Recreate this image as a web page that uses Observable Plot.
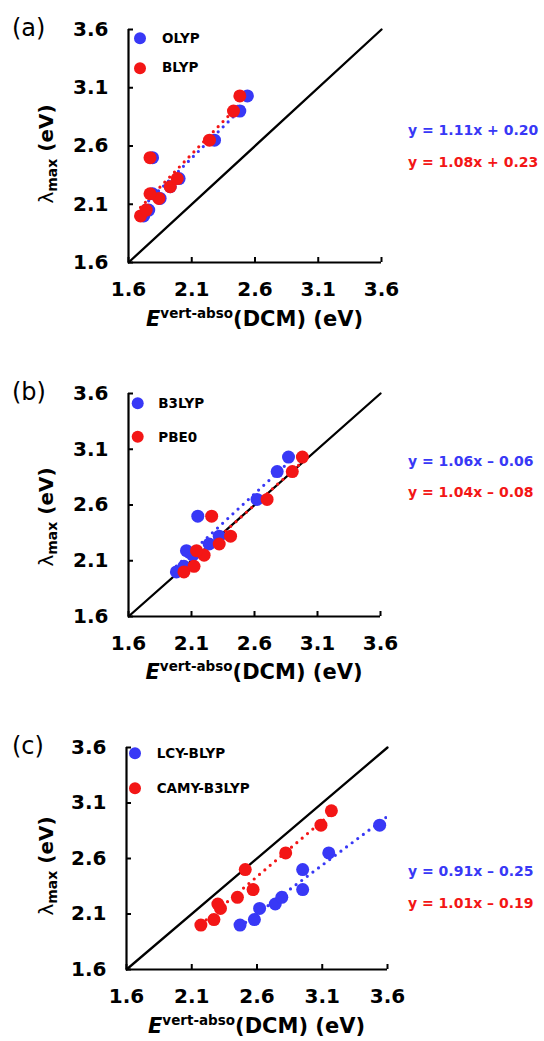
<!DOCTYPE html>
<html><head><meta charset="utf-8">
<script src="https://cdn.jsdelivr.net/npm/d3@7"></script>
<script src="https://cdn.jsdelivr.net/npm/@observablehq/plot@0.6"></script>
<style>
html,body{margin:0;padding:0;background:#fff;}
#chart{position:relative;width:544px;height:1041px;overflow:hidden;background:#fff;}
#chart > svg{position:absolute;left:0;}
</style></head><body><div id="chart"></div>
<script>
// experimental absorption maxima (eV), shared by all panels
const lambdaMax = [2.00, 2.05, 2.15, 2.19, 2.25, 2.32, 2.50, 2.65, 2.90, 3.03];
// computed vertical absorption energies (eV)
const olyp      = [1.72, 1.76, 1.85, 1.79, 1.93, 2.00, 1.79, 2.28, 2.48, 2.54];
const blyp      = [1.695, 1.74, 1.84, 1.77, 1.93, 1.985, 1.77, 2.24, 2.43, 2.48];
const b3lyp     = [1.98, 2.04, 2.11, 2.06, 2.24, 2.32, 2.15, 2.62, 2.78, 2.87];
const pbe0      = [2.04, 2.12, 2.20, 2.14, 2.32, 2.41, 2.26, 2.70, 2.90, 2.98];
const lcyBlyp   = [2.47, 2.58, 2.62, 2.74, 2.79, 2.95, 2.95, 3.15, 3.54, 3.66];
const camyB3lyp = [2.17, 2.27, 2.32, 2.30, 2.45, 2.57, 2.51, 2.82, 3.09, 3.17];

const axisTicks = [1.6, 2.1, 2.6, 3.1, 3.6];
const diagonal = [1.6, 3.6];
const panelLabels = ["(a)", "(b)", "(c)"];
const seriesNames = [["OLYP", "BLYP"], ["B3LYP", "PBE0"], ["LCY-BLYP", "CAMY-B3LYP"]];
const equations = [
  ["y = 1.11x + 0.20", "y = 1.08x + 0.23"],
  ["y = 1.06x \u2013 0.06", "y = 1.04x \u2013 0.08"],
  ["y = 0.91x \u2013 0.25", "y = 1.01x \u2013 0.19"]
];
const seriesX = [[olyp, blyp], [b3lyp, pbe0], [lcyBlyp, camyB3lyp]];

const BLUE = "#3838f6", RED = "#f31616";
const FONT = "DejaVu Sans";

// layout (pixels)
const layouts = [
  {top: 0,   h: 300, mt: 29, mb: 38, ml: 128, mr: 163, lab: 36,  legY: [38.3, 68.3], legX: 140, legTX: 162, legTY: [43, 72], eqY: [135, 167], yLabC: 154, xLabY: 326},
  {top: 360, h: 300, mt: 33, mb: 44, ml: 128, mr: 164, lab: 400, legY: [403.3, 436.7], legX: 137.7, legTX: 158.3, legTY: [408.3, 441.7], eqY: [466, 497], yLabC: 517, xLabY: 679},
  {top: 720, h: 300, mt: 27, mb: 51, ml: 126, mr: 157, lab: 754, legY: [753.3, 788.3], legX: 135, legTX: 156.7, legTY: [758, 793], eqY: [876, 908], yLabC: 866, xLabY: 1033}
];

const chart = document.getElementById("chart");
const colors = [BLUE, RED];

layouts.forEach((L, p) => {
  const fw = 544 - L.ml - L.mr, fh = L.h - L.mt - L.mb;
  const rows = seriesX[p].map(xs => lambdaMax.map((y, i) => ({x: xs[i], y})));
  const svg = Plot.plot({
    width: 544, height: L.h,
    marginTop: L.mt, marginBottom: L.mb, marginLeft: L.ml, marginRight: L.mr,
    style: {fontFamily: FONT, fontWeight: "bold", fontSize: "20px", color: "#000", background: "transparent", overflow: "visible"},
    x: {domain: [axisTicks[0], axisTicks[axisTicks.length - 1]]},
    y: {domain: [axisTicks[0], axisTicks[axisTicks.length - 1]]},
    marks: [
      Plot.line(diagonal, {x: d => d, y: d => d, stroke: "#000", strokeWidth: 2.3}),
      ...rows.map((r, k) => Plot.linearRegressionY(r, {x: "x", y: "y", stroke: colors[k], ci: 0, strokeWidth: 3.2, strokeDasharray: "0,7", strokeLinecap: "round", clip: true})),
      ...rows.map((r, k) => Plot.dot(r, {x: "x", y: "y", r: 6.5, fill: colors[k], clip: true})),
      Plot.tickX(axisTicks, {x: d => d, insetTop: fh - 5, stroke: "#000", strokeWidth: 2}),
      Plot.tickY(axisTicks, {y: d => d, insetRight: fw - 5, stroke: "#000", strokeWidth: 2}),
      Plot.ruleX([axisTicks[0]], {stroke: "#000", strokeWidth: 2.2}),
      Plot.ruleY([axisTicks[0]], {stroke: "#000", strokeWidth: 2.2}),
      Plot.axisX(axisTicks, {tickSize: 0, tickPadding: 19, tickFormat: d => d.toFixed(1), label: null, fontSize: 20, fontWeight: "bold", fill: "#000"}),
      Plot.axisY(axisTicks, {tickSize: 0, tickPadding: 20, tickFormat: d => d.toFixed(1), label: null, fontSize: 20, fontWeight: "bold", fill: "#000"})
    ]
  });
  svg.style.top = L.top + "px";
  chart.appendChild(svg);
});

// overlay with text annotations
const ov = d3.select(chart).append("svg")
  .attr("width", 544).attr("height", 1041)
  .style("position", "absolute").style("top", "0px").style("left", "0px")
  .attr("font-family", FONT);

layouts.forEach((L, p) => {
  const cx = L.ml + (544 - L.ml - L.mr) / 2;
  // panel label
  ov.append("text").attr("x", 12).attr("y", L.lab).attr("font-size", 24).attr("font-weight", "normal").text(panelLabels[p]);
  // legend
  seriesNames[p].forEach((name, k) => {
    ov.append("circle").attr("cx", L.legX).attr("cy", L.legY[k]).attr("r", 6).attr("fill", colors[k]);
    ov.append("text").attr("x", L.legTX).attr("y", L.legTY[k]).attr("font-size", 13.5).attr("font-weight", "bold").text(name);
  });
  // equations
  equations[p].forEach((eq, k) => {
    ov.append("text").attr("x", 408).attr("y", L.eqY[k]).attr("font-size", 14).attr("font-weight", "bold").attr("fill", colors[k]).text(eq);
  });
  // y label
  const yl = ov.append("text").attr("transform", `translate(53,${L.yLabC}) rotate(-90)`).attr("text-anchor", "middle").attr("font-size", 20).attr("font-weight", "bold");
  yl.append("tspan").attr("font-weight", "normal").text("\u03bb");
  yl.append("tspan").attr("font-size", 14).attr("dy", 4).text("max");
  yl.append("tspan").attr("dy", -4).text(" (eV)");
  // x label
  const xl = ov.append("text").attr("x", cx).attr("y", L.xLabY).attr("text-anchor", "middle").attr("font-size", 21).attr("font-weight", "bold");
  xl.append("tspan").attr("font-style", "italic").text("E");
  xl.append("tspan").attr("font-size", 13.5).attr("dy", -8).text("vert-abso");
  xl.append("tspan").attr("dy", 8).text("(DCM) (eV)");
});
</script>
</body></html>
